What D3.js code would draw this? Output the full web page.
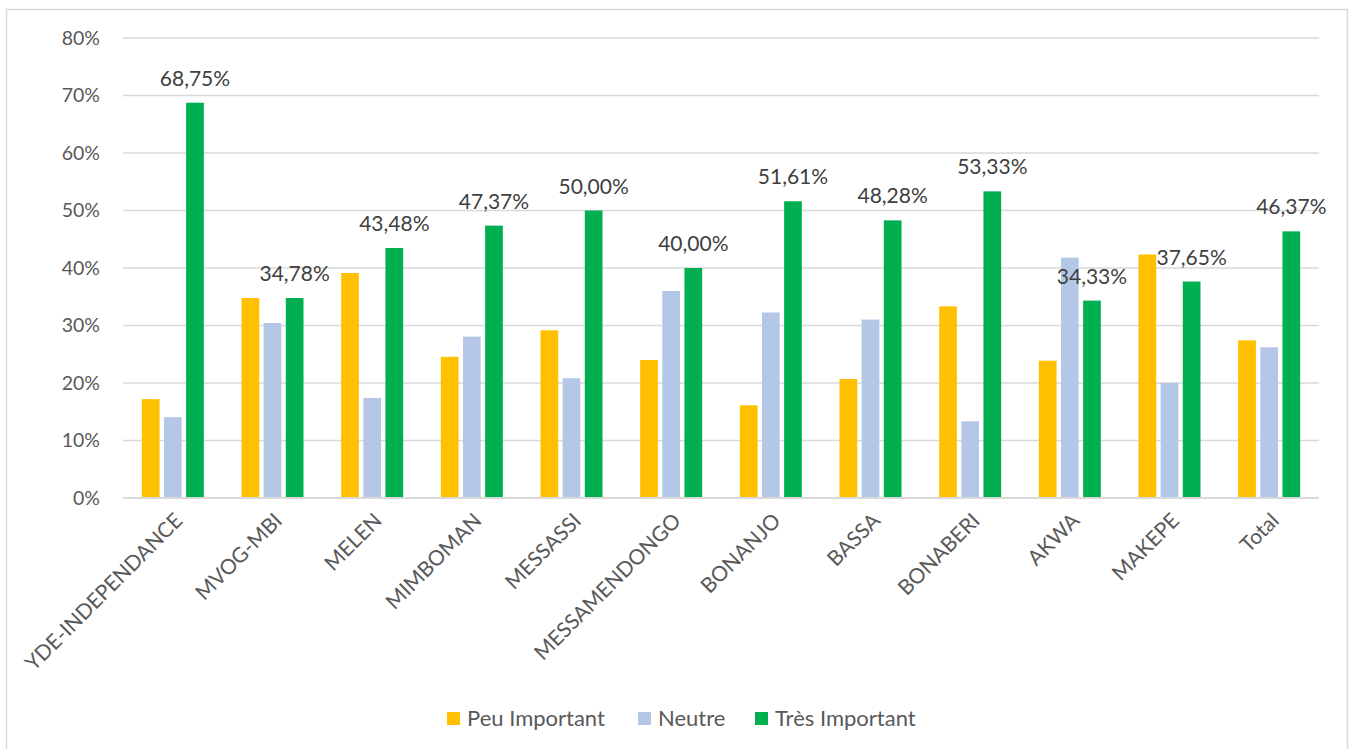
<!DOCTYPE html>
<html>
<head>
<meta charset="utf-8">
<script src="https://cdn.jsdelivr.net/npm/d3@7"></script>
<style>
  html, body { margin: 0; padding: 0; background: #fff; }
  svg { display: block; }
  text { font-family: Lato, "Open Sans", sans-serif; }
</style>
</head>
<body>
<svg id="chart" width="1356" height="749"></svg>
<script>
// Importance ratings by district (percent of respondents)
const categories = ["YDE-INDEPENDANCE", "MVOG-MBI", "MELEN", "MIMBOMAN", "MESSASSI",
  "MESSAMENDONGO", "BONANJO", "BASSA", "BONABERI", "AKWA", "MAKEPE", "Total"];
const seriesNames = ["Peu Important", "Neutre", "Très Important"];
const peuImportant = [17.19, 34.78, 39.13, 24.56, 29.17, 24.00, 16.13, 20.69, 33.33, 23.88, 42.35, 27.42];
const neutre = [14.06, 30.43, 17.39, 28.07, 20.83, 36.00, 32.26, 31.03, 13.33, 41.79, 20.00, 26.21];
const tresImportant = [68.75, 34.78, 43.48, 47.37, 50.00, 40.00, 51.61, 48.28, 53.33, 34.33, 37.65, 46.37];
const yTicks = [0, 10, 20, 30, 40, 50, 60, 70, 80];
const seriesColors = ["#FFC000", "#B4C7E7", "#00B050"];

const seriesValues = [peuImportant, neutre, tresImportant];

const svg = d3.select("#chart");
const plot = { left: 123, right: 1319, top: 38, bottom: 498 };

// outer chart frame
svg.append("rect")
  .attr("x", 6.5).attr("y", 9.5)
  .attr("width", 1341).attr("height", 760)
  .attr("fill", "none").attr("stroke", "#d9d9d9").attr("stroke-width", 1.5);

const x = d3.scaleBand().domain(categories).range([plot.left, plot.right]).paddingInner(0).paddingOuter(0);
const groupWidth = 62;
const xs = d3.scaleBand().domain(seriesNames).range([0, groupWidth]).paddingInner(0.2).paddingOuter(0);
const y = d3.scaleLinear().domain([0, 80]).range([plot.bottom, plot.top]);

// horizontal gridlines
svg.append("g").selectAll("line").data(yTicks).join("line")
  .attr("x1", plot.left).attr("x2", plot.right)
  .attr("y1", d => y(d)).attr("y2", d => y(d))
  .attr("stroke", "#d9d9d9").attr("stroke-width", 1.5);

// y axis labels
const yAxis = d3.axisLeft(y).tickValues(yTicks).tickFormat(d => d + "%").tickSize(0).tickPadding(23);
const gy = svg.append("g").attr("transform", `translate(${plot.left},0)`).call(yAxis);
gy.select(".domain").remove();
gy.selectAll("text").attr("fill", "#595959").style("font-size", "19.5px").style("font-family", "Lato, sans-serif");

// bars
const groups = svg.append("g").selectAll("g").data(categories).join("g")
  .attr("transform", (c) => `translate(${x(c) + x.bandwidth() / 2 - groupWidth / 2},0)`);

groups.selectAll("rect").data((c, i) => seriesNames.map((s, k) => ({ s, v: seriesValues[k][i], k })))
  .join("rect")
  .attr("x", d => xs(d.s))
  .attr("width", xs.bandwidth())
  .attr("y", d => y(d.v))
  .attr("height", d => y(0) - y(d.v))
  .attr("fill", d => seriesColors[d.k]);

// baseline
svg.append("line")
  .attr("x1", plot.left).attr("x2", plot.right)
  .attr("y1", y(0)).attr("y2", y(0))
  .attr("stroke", "#d9d9d9").attr("stroke-width", 2);

// value labels on the "Très Important" series
const fmt = v => v.toFixed(2).replace(".", ",") + "%";
svg.append("g").selectAll("text").data(categories).join("text")
  .attr("x", (c) => x(c) + x.bandwidth() / 2 - groupWidth / 2 + xs("Très Important") + xs.bandwidth() / 2)
  .attr("y", (c, i) => y(tresImportant[i]) - 17)
  .attr("text-anchor", "middle")
  .attr("fill", "#404040")
  .style("font-size", "21px")
  .text((c, i) => fmt(tresImportant[i]));

// category labels, rotated
const xAxis = d3.axisBottom(x).tickSize(0).tickPadding(0);
const gx = svg.append("g").attr("transform", `translate(0,${plot.bottom})`).call(xAxis);
gx.select(".domain").remove();
gx.selectAll("text")
  .attr("y", 0).attr("dy", 0)
  .attr("transform", "translate(11,24) rotate(-45)")
  .attr("text-anchor", "end")
  .attr("fill", "#595959")
  .style("font-size", "21px")
  .style("font-family", "Lato, sans-serif");

// legend
const legendX = [447, 638, 755];
const lg = svg.append("g").selectAll("g").data(seriesNames).join("g")
  .attr("transform", (d, i) => `translate(${legendX[i]},712)`);
lg.append("rect").attr("width", 13).attr("height", 13).attr("fill", (d, i) => seriesColors[i]);
lg.append("text").attr("x", 20).attr("y", 13.5)
  .attr("fill", "#595959").style("font-size", "22px").text(d => d);
</script>
</body>
</html>
